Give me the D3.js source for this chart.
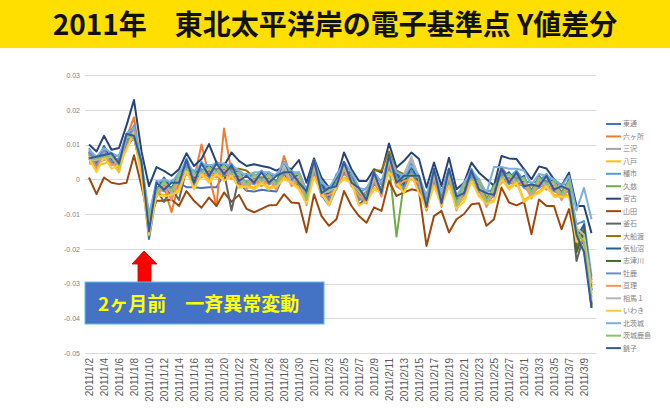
<!DOCTYPE html>
<html><head><meta charset="utf-8">
<script src="https://cdn.jsdelivr.net/npm/d3@7"></script>
<style>
html,body{margin:0;padding:0;background:#fff;}
svg{display:block;}
</style></head>
<body><svg id="c" width="670" height="420"></svg>
<script>
const title = "2011年　東北太平洋岸の電子基準点 Y値差分";
const annotation = "2ヶ月前　一斉異常変動";
const dates = ["2011/1/2","2011/1/3","2011/1/4","2011/1/5","2011/1/6","2011/1/7","2011/1/8","2011/1/9","2011/1/10","2011/1/11",
"2011/1/12","2011/1/13","2011/1/14","2011/1/15","2011/1/16","2011/1/17","2011/1/18","2011/1/19","2011/1/20","2011/1/21",
"2011/1/22","2011/1/23","2011/1/24","2011/1/25","2011/1/26","2011/1/27","2011/1/28","2011/1/29","2011/1/30","2011/1/31",
"2011/2/1","2011/2/2","2011/2/3","2011/2/4","2011/2/5","2011/2/6","2011/2/7","2011/2/8","2011/2/9","2011/2/10",
"2011/2/11","2011/2/12","2011/2/13","2011/2/14","2011/2/15","2011/2/16","2011/2/17","2011/2/18","2011/2/19","2011/2/20",
"2011/2/21","2011/2/22","2011/2/23","2011/2/24","2011/2/25","2011/2/26","2011/2/27","2011/2/28","2011/3/1","2011/3/2",
"2011/3/3","2011/3/4","2011/3/5","2011/3/6","2011/3/7","2011/3/8","2011/3/9","2011/3/10"];
const yTicks = [0.03,0.02,0.01,0,-0.01,-0.02,-0.03,-0.04,-0.05];
const yTickLabels = ["0.03","0.02","0.01","0","-0.01","-0.02","-0.03","-0.04","-0.05"];
const stations = ["東通","六ヶ所","三沢","八戸","種市","久慈","宮古","山田","釜石","大船渡","気仙沼","志津川","牡鹿","亘理","相馬１","いわき","北茨城","茨城鹿島","銚子"];
const colors = ["#4472C4","#ED7D31","#A5A5A5","#FFC000","#5B9BD5","#70AD47","#264478","#9E480E","#636363","#997300","#255E91","#43682B","#698ED0","#F1975A","#B7B7B7","#FFCD33","#7CAFDD","#8CC168","#335AA1"];

// values in units of 0.001
const higashidori = [7.5,3.5,6.5,4.5,3.5,9.5,12,2,-17.2,-4,
 -1.5,-4.5,-1,-2.3,-2.3,-2.5,-2.3,-2.3,1.5,0.5,
 -1,-3.3,-3.5,-3,-3.3,-3.5,1.5,-1.5,-1.5,-6.5,
 2.5,-4.5,-7.5,-2.5,2,-1,-5.5,-6.5,-1,-4,
 4,-1,-2,1,-2,-8,0,-7,0,-8,
 -4,0,-3,-7,-4.5,0.5,-1,-1,-2,-4.5,
 -2,-2,-3,-5,-3,-17,-18,-32];
const rokkasho = [7,5,7.5,5,5,12,17.8,3,-12.5,-3,
 -2,-9.5,-1,3,0,10,1,-7.7,14.6,2,
 0,-1.5,0,0.5,0.5,-1.5,6.7,0.5,-0.5,-5,
 3.5,-3.5,-5.5,-1.5,3,0,-5.5,-5.5,-0.5,-4,
 4.5,-2,-3.5,1,-2,-9,0.5,-7,0.5,-8.5,
 -4,0,-2.5,-6.5,-3.5,1.5,1,0,-1.5,-3.5,
 -1.5,-2,-2.5,-4.5,-2,-14,-18,-30];
const misawa = [5,5,5.5,6,3,11.5,12,3.5,-12,-5,
 -0.5,-5,0.5,2,0,1,2.5,1,3,0.5,
 1,-2.5,0.5,-1.5,1.5,-2,1.5,1.5,-0.5,-4,
 2,-1.5,-5,0,2,1.5,-5,-3.5,-0.5,-1.5,
 4.5,1.5,-1.5,6,0.5,-7.5,2.5,-4.5,0.5,-5.5,
 -3.5,2,-2.5,-4.5,-4,2.5,-0.5,1.5,-1.5,-2,
 -1.5,0.5,-2.5,-2.5,-2.5,-15,-15,-31];
const hachinohe = [4.5,4,4.5,5,2,10,12,2.5,-15.5,-4,
 -4.5,-4,-3,3,-2.5,2,-0.5,2,0,1.5,
 -2,-1.5,-2.5,-0.5,-2.5,-1.5,0.5,-0.5,-2.5,-6.5,
 1,-3.5,-7,-1.5,0.5,-0.5,-7,-6,-2.5,-3.5,
 2.5,-0.5,-3.5,1.5,-3.5,-7.5,-1.5,-6.5,-1.5,-7.5,
 -5.5,0,-4.5,-6.5,-6,0.5,-2.5,-0.5,-6,-4.5,
 -3.5,-1.5,-4.5,-4.5,-4.5,-16,-18,-31];
const taneichi = [9,5,9.5,6,7,11.5,15.5,3.5,-11.5,-0.5,
 -1.5,-0.5,0.5,6,0.5,5,2.5,5,3,4.5,
 1,1.5,0.5,2.5,0.5,1.5,3.5,2.5,0.5,-3,
 4,-0.5,-4,1.5,3.5,2.5,-4,-2.5,0.5,-0.5,
 5.5,2.5,-0.5,4.5,-0.5,-4.5,1.5,-3.5,1.5,-4.5,
 -2.5,3,-1.5,-3.5,-3,3.5,0.5,2.5,-0.5,-1,
 -0.5,1.5,-1.5,-1.5,-1.5,-13,-12,-28];
const kuji = [6.5,4.5,7,5.5,4.5,10.5,12.5,3,-12.5,-3,
 -2.5,-3,-0.5,3,-0.5,2,1.5,2,2.5,1.5,
 0,-1.5,-0.5,0,-0.5,-1.5,2.5,0,0,-5.5,
 3,-3,-4.5,-1.5,2.5,0,-4.5,-5,0,-3,
 4.5,-16.5,-1,1.5,-1.5,-7,0.5,-6,0.5,-7,
 -3,0,-2.5,-6,-3.5,0.5,0,0,-1,-3.5,
 -1.5,-1,-2,-4,-2,-15,-17,-36];
const miyako = [10,8,12.5,8.5,9,15.5,22.8,8,-2,3.5,
 2.4,1,2.9,7.5,3.8,5.8,10.1,4.8,3.8,7.7,
 5.3,3.8,4.3,3.8,3.4,2.5,3.7,2.9,5.5,-1,
 6,0.5,-2.4,0,7.7,2.9,-0.5,-0.5,2.9,1.9,
 10.3,3.4,5.3,7.7,5.8,-2.4,4.8,-1.9,6.2,-2.9,
 -1,4.8,1.9,0,-1.9,6.7,6,5.8,2.9,0,
 3.7,3.1,0,-1.9,1.9,-7.7,-7.7,-15.5];
const yamada = [0.5,-4.3,0.5,-1,-1.4,-1,6.9,-2,-11.5,-6.2,
 -6.2,-5.8,-7.7,-3.4,-6.2,-8.2,-5.3,-7.7,-3.8,-6.5,
 -4.5,-8.5,-9.5,-8.5,-7.5,-7.4,-4.3,-6.7,-6.9,-15.3,
 -4.3,-10.6,-13.4,-11.5,-3.4,-7.7,-10.6,-12.5,-8.1,-9.1,
 -0.5,-4.8,-3.8,-2.9,-3.4,-19.2,-10.6,-9.1,-15.3,-11.5,
 -10,-7.2,-6.9,-13.4,-11.5,-2.4,-6.7,-7.5,-6.5,-15.8,
 -5.8,-7.7,-7.7,-14.4,-8.6,-19,-18,-29];
const kamaishi = [6,4,6.5,5,4,10.5,12.5,2.5,-13.5,-3,
 -6.5,-2.5,-6,3,-1,2.5,2,2,2,-9,
 0.5,-1,0,0,0,-1.5,2.5,-0.5,0,-5.5,
 3,-2.5,-4,-1,3.5,0,-7.5,-5,0,-3,
 5,0.5,-0.5,2,-1,-7,1,-6,0.5,-7,
 -3,0.5,-2,-6,-3.5,1,0.5,0,-1,-3.5,
 -1,-1,-2,-4,-2,-23.5,-16,-36];
const ofunato = [6.5,5,7.5,5.5,5,11,13.5,3.5,-11.5,-2.5,
 -1.5,-2.5,0.5,3.5,0.5,2.5,2.5,3,3,3,
 3,2.5,0.5,0.5,0.5,-0.5,3,0.5,0.5,-5,
 4,-2.5,-4,-0.5,3.5,0.5,-4,-4.5,2.5,2.5,
 8,2.5,1.5,3,-0.5,-6.5,1.5,-5.5,1.5,-6.5,
 -2.5,1,-1.5,-5.5,-3,3,0.5,0.5,-0.5,-3,
 -0.5,-0.5,-1.5,-3.5,-1.5,-20,-14,-36.5];
const kesennuma = [8,4,9.5,5,6,13,15,2,-10,-3.5,
 0.5,-3,2,2.5,2.5,1.5,4,1.5,4.5,1,
 2.5,-2,1.5,-1,2,-2,5,-1,2,-3.5,
 2.5,-1,-5.5,1,2,2,-3,-6,2,-1,
 4,2,-2,4,-2,-5,0,-4,3,-8,
 -1,-0.5,0,-7,-1.5,0,2,-1,1,-4.5,
 1,-2,0,-5,0,-17,-13,-32];
const shizugawa = [6,4.5,7,5.5,4.5,11,13,3,-12,-3,
 -2,-3,0,3,0,2.5,2,2.5,2.5,2,
 0.5,-1,0,0,0,-1,3,0,0,-5.5,
 3.5,-3,-4.5,-1,3,0,-4.5,-5,0,-3,
 6,0,-1,2,-1,-7,1,-6,1,-7,
 -3,0.5,-2,-6,-3.5,1,0,0,-1,-3.5,
 -1,-1,-2,-4,-2,-21,-15,-37];
const oshika = [8,4,8.5,5,6,10.5,15,2.5,-14,-2.5,
 -3.5,-2.5,-1.5,4,-1.5,3,0.5,3,1,2.5,
 -1,-0.5,-1.5,0.5,-1.5,-0.5,1.5,0.5,-1.5,-5,
 2,-2.5,-6,-0.5,1.5,0.5,-6,-4.5,-1.5,-2.5,
 3.5,0.5,-2.5,2.5,-2.5,-6.5,-0.5,-5.5,-0.5,-6.5,
 -4.5,1,-3.5,-5.5,-5,1.5,-1.5,0.5,-2.5,-3,
 -2.5,-0.5,-3.5,-3.5,-3.5,-18,-18,-34];
const watari = [7,3,7.5,4,5,9,14,1.5,-12.5,-5,
 -2,-6,0,1.5,0,0.5,2,0.5,2.5,0,
 0.5,-3,0,-2,0,-3,3,-2,0,-7.5,
 3.5,-5,-4.5,-3,3,-2,-4.5,-7,0,-5,
 5,-2,-0.5,0,-1,-9,1,-8,1,-9,
 -3,-1,-2,-8,-3.5,-1,0,-2,-1,-5.5,
 -1,-3,-2,-6,-2,-15,-21,-33];
const soma1 = [5.5,5.5,6,6.5,3.5,12,12.5,4,-11,-4,
 -1,-4,1,2.5,1,1.5,3,1.5,3.5,1,
 1.5,-2,1,-1,1,-2,4,-1,1,-6.5,
 4.5,-4,-3.5,-2,4,-1,-3.5,-6,1,-4,
 6,-1,1.5,6.5,0,-8,2,-7,2,-8,
 -2,-0.5,-1,-7,-2.5,0,1,-1,0,-4.5,
 0,-2,-1,-5,-1,-14,-16,-30];
const iwaki = [6,2,6.5,3,4,8.5,13.5,0.5,-16,-4.5,
 -5,-4.5,-3.5,2.5,-3,1.5,-1,1.5,-0.5,1,
 -2.5,-2,-3,-1,-3,-2,0,-1,-3,-7,
 0.5,-4,-7.5,-2,0,-1,-7.5,-6.5,-3,-4,
 2,-1,-4,1,-4,-8.5,-2,-7.5,-2,-8.5,
 -6.5,-0.5,-5,-7,-6.5,0,-3,-1,-6.5,-5,
 -4,-2,-5,-5,-5,-18,-17,-33];
const kitaibaraki = [8.5,6.5,9,7.5,6.5,13,15,5,-10,-1,
 0,-1,2,5,2,4.5,4,4.5,4.5,4,
 2.5,1,2,2,2,1,5,2,2,-3.5,
 5.5,-1,-2.5,1,5,2,-2.5,-3,2,-1,
 7,2,1,4,1,-5,3,-4,3,-5,
 -1,2.5,0,-4,3.5,3.5,3,3,2.5,-1.5,
 1.5,1,0,-2,1,-9,-2.5,-11.5];
const ibarakikashima = [6,6,6.5,7,4,12.5,12,4.5,-11.5,-3.5,
 -0.5,-3.5,1.5,3,1.5,2,3.5,2,4,1.5,
 2,-1.5,1.5,-0.5,1.5,-1.5,2.5,1.5,1.5,-6,
 5,-3.5,-3,-1.5,4.5,-0.5,-3,-5.5,1.5,-3.5,
 6.5,-0.5,0.5,1.5,0.5,-7.5,2.5,-6.5,2.5,-7.5,
 -1.5,0,-0.5,-6.5,-2,0.5,1.5,-0.5,0.5,-4,
 0.5,-1.5,-0.5,-4.5,-0.5,-15,-18,-35];
const choshi = [6,6.5,7,7.5,4.5,13,12.5,5,-15,-1,
 -3,-1,-1,5.5,-1,4.5,1,4.5,1.5,4,
 -0.5,1,-1,2,-1,1,2,2,-1,-3.5,
 5.5,-4,-2.5,-2,5,-1,-2.5,-6,2,-4,
 7,-1,1,1,1,-8,3,-7,3,-5,
 -4,2.5,-3,-4,-4.5,3,-1,2,-2,-1.5,
 -2,1,-3,-2,-3,-16,-21,-37];

const seriesValues = [higashidori,rokkasho,misawa,hachinohe,taneichi,kuji,miyako,yamada,kamaishi,ofunato,kesennuma,shizugawa,oshika,watari,soma1,iwaki,kitaibaraki,ibarakikashima,choshi];

const svg = d3.select("#c");
// title band
svg.append("rect").attr("x",0).attr("y",0).attr("width",670).attr("height",48).attr("fill","#FFDF00");
svg.append("text").attr("x",335).attr("y",35).attr("text-anchor","middle")
  .attr("font-family","'Noto Sans CJK JP','Noto Sans',sans-serif").attr("font-weight","bold")
  .attr("font-size",28).attr("fill","#111").text(title);

const x = d3.scalePoint().domain(dates).range([85.25,595.25]).padding(0.5);
const y = d3.scaleLinear().domain([-0.05,0.03]).range([353,75]);

// gridlines
svg.append("g").selectAll("line").data(yTicks).join("line")
  .attr("x1",85).attr("x2",596).attr("y1",d=>Math.round(y(d))+0.5).attr("y2",d=>Math.round(y(d))+0.5)
  .attr("stroke","#D9D9D9").attr("stroke-width",1);

// y axis labels
const yAxis = d3.axisLeft(y).tickValues(yTicks).tickFormat((d,i)=>yTickLabels[i]).tickSize(0).tickPadding(0);
const gy = svg.append("g").attr("transform","translate(80,0)").call(yAxis);
gy.select(".domain").remove();
gy.selectAll("text").attr("font-family","'Liberation Sans',Arial,sans-serif").attr("font-size",7).attr("fill","#7F7F7F");

// x axis labels
const evenDates = dates.filter((d,i)=>i%2===0);
const xAxis = d3.axisBottom(x).tickValues(evenDates).tickSize(0).tickPadding(0);
const gx = svg.append("g").attr("transform","translate(0,353)").call(xAxis);
gx.select(".domain").remove();
gx.selectAll("text")
  .attr("font-family","'Liberation Sans',Arial,sans-serif").attr("font-size",10).attr("fill","#595959")
  .attr("transform","rotate(-90)").attr("text-anchor","end").attr("dy","0.35em").attr("x",-5).attr("y",0);

// lines
const line = d3.line().x((d,i)=>x(dates[i])).y(d=>y(d/1000));
svg.append("g").selectAll("path").data(seriesValues).join("path")
  .attr("d",d=>line(d)).attr("fill","none")
  .attr("stroke",(d,i)=>colors[i]).attr("stroke-width",2).attr("stroke-linejoin","round");

// legend
const lg = svg.append("g").selectAll("g").data(stations).join("g")
  .attr("transform",(d,i)=>`translate(606,${124+i*12.45})`);
lg.append("line").attr("x1",0).attr("x2",15).attr("y1",0).attr("y2",0)
  .attr("stroke",(d,i)=>colors[i]).attr("stroke-width",2);
lg.append("text").attr("x",17).attr("y",0).attr("dy","0.35em")
  .attr("font-family","'Noto Sans CJK JP',sans-serif").attr("font-size",7).attr("fill","#7F7F7F").text(d=>d);

// annotation
svg.append("path").attr("d","M144,251 L157,264 L151,264 L151,282 L138,282 L138,264 L132,264 Z")
  .attr("fill","#FF0000").attr("stroke","#C00000").attr("stroke-width",0.8);
svg.append("rect").attr("x",85).attr("y",282).attr("width",239).attr("height",42)
  .attr("fill","#4472C4").attr("stroke","#5BC0F0").attr("stroke-width",1);
svg.append("text").attr("x",98).attr("y",311)
  .attr("font-family","'Noto Sans CJK JP',sans-serif").attr("font-weight","bold")
  .attr("font-size",19).attr("fill","#FFFF00").text(annotation);
</script></body></html>
